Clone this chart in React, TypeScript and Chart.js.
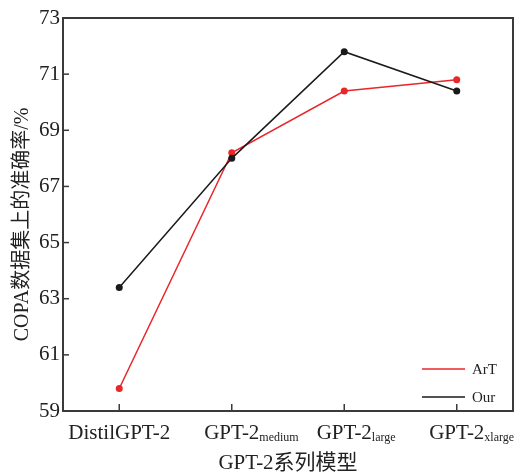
import React, { useEffect, useRef } from "react";
import { Chart, registerables } from "chart.js";

Chart.register(...registerables);

const categoryMain = ["DistilGPT-2", "GPT-2", "GPT-2", "GPT-2"];
const categorySub = ["", "medium", "large", "xlarge"];
const artValues = [59.8, 68.2, 70.4, 70.8];
const ourValues = [63.4, 68.0, 71.8, 70.4];
const yTicks = [59, 61, 63, 65, 67, 69, 71, 73];
const seriesNames = ["ArT", "Our"];
const xTitle = "GPT-2系列模型";
const yTitle = "COPA数据集上的准确率/%";

const SERIF = "'Liberation Serif', 'Times New Roman', 'Noto Sans CJK SC', serif";
const RED = "#e8262b";
const BLACK = "#1a1a1a";
const AXIS = "#3a3a3a";

const framePlugin = {
  id: "frameTicks",
  afterDraw(chart: any) {
    const { ctx, chartArea, scales } = chart;
    const { left, right, top, bottom } = chartArea;
    const xs = scales.x;
    const ys = scales.y;
    ctx.save();
    // frame
    ctx.strokeStyle = AXIS;
    ctx.lineWidth = 2;
    ctx.strokeRect(left, top, right - left, bottom - top);
    // y ticks inward
    ctx.lineWidth = 1.5;
    ys.ticks.forEach((t: any) => {
      const y = ys.getPixelForValue(t.value);
      ctx.beginPath();
      ctx.moveTo(left, y);
      ctx.lineTo(left + 6, y);
      ctx.stroke();
    });
    // x ticks inward + labels
    categoryMain.forEach((main, i) => {
      const x = xs.getPixelForValue(i);
      ctx.strokeStyle = AXIS;
      ctx.beginPath();
      ctx.moveTo(x, bottom);
      ctx.lineTo(x, bottom - 7);
      ctx.stroke();
      ctx.fillStyle = "#222";
      ctx.textBaseline = "alphabetic";
      ctx.font = `21px ${SERIF}`;
      const mw = ctx.measureText(main).width;
      ctx.textAlign = "left";
      ctx.fillText(main, x - mw / 2, bottom + 28);
      if (categorySub[i]) {
        ctx.font = `12px ${SERIF}`;
        ctx.fillText(categorySub[i], x + mw / 2, bottom + 30);
      }
    });
    // y title
    ctx.save();
    ctx.translate(23, (top + bottom) / 2 + 10);
    ctx.rotate(-Math.PI / 2);
    ctx.fillStyle = "#222";
    ctx.font = `20px ${SERIF}`;
    ctx.textAlign = "center";
    ctx.textBaseline = "middle";
    ctx.fillText(yTitle, 0, 0);
    ctx.restore();
    // legend
    const rows = [bottom - 42, bottom - 14];
    chart.data.datasets.forEach((ds: any, i: number) => {
      const y = rows[i];
      ctx.strokeStyle = ds.borderColor;
      ctx.lineWidth = 1.5;
      ctx.beginPath();
      ctx.moveTo(right - 91, y);
      ctx.lineTo(right - 48, y);
      ctx.stroke();
      ctx.fillStyle = "#222";
      ctx.font = `15px ${SERIF}`;
      ctx.textAlign = "left";
      ctx.textBaseline = "middle";
      ctx.fillText(ds.label, right - 41, y + 1);
    });
    ctx.restore();
  },
};

export default function App() {
  const ref = useRef<HTMLCanvasElement | null>(null);
  useEffect(() => {
    if (!ref.current) return;
    const chart = new Chart(ref.current, {
      type: "line",
      data: {
        labels: categoryMain.map((m, i) => m + categorySub[i]),
        datasets: [
          {
            label: seriesNames[0],
            data: artValues,
            borderColor: RED,
            backgroundColor: RED,
            pointBackgroundColor: RED,
            pointBorderWidth: 0,
            pointRadius: 3.5,
            borderWidth: 1.5,
            order: 1,
          },
          {
            label: seriesNames[1],
            data: ourValues,
            borderColor: BLACK,
            backgroundColor: BLACK,
            pointBackgroundColor: BLACK,
            pointBorderWidth: 0,
            pointRadius: 3.5,
            borderWidth: 1.5,
            order: 0,
          },
        ],
      },
      options: {
        responsive: false,
        animation: false,
        devicePixelRatio: 1,
        layout: { padding: { top: 18, right: 16, left: 0, bottom: 0 } },
        plugins: { legend: { display: false }, tooltip: { enabled: false } },
        scales: {
          x: {
            type: "category",
            offset: true,
            grid: { display: false },
            border: { display: false },
            ticks: { display: false },
            title: {
              display: true,
              text: xTitle,
              color: "#222",
              font: { family: SERIF, size: 21, lineHeight: 1 },
              padding: { top: 0, bottom: 0 },
            },
            afterFit: (s: any) => {
              s.height = 63;
            },
          },
          y: {
            min: yTicks[0],
            max: yTicks[yTicks.length - 1],
            afterBuildTicks: (s: any) => {
              s.ticks = yTicks.map((v) => ({ value: v }));
            },
            grid: { display: false, drawTicks: false },
            border: { display: false },
            ticks: {
              padding: 3,
              color: "#222",
              font: { family: SERIF, size: 21 },
            },
            title: { display: false },
            afterFit: (s: any) => {
              s.width = 63;
            },
          },
        },
      },
      plugins: [framePlugin],
    } as any);
    return () => chart.destroy();
  }, []);
  return (
    <div style={{ position: "fixed", left: 0, top: 0, width: 529, height: 474, background: "#fff" }}>
      <canvas ref={ref} width={529} height={474} style={{ width: 529, height: 474 }} />
    </div>
  );
}
